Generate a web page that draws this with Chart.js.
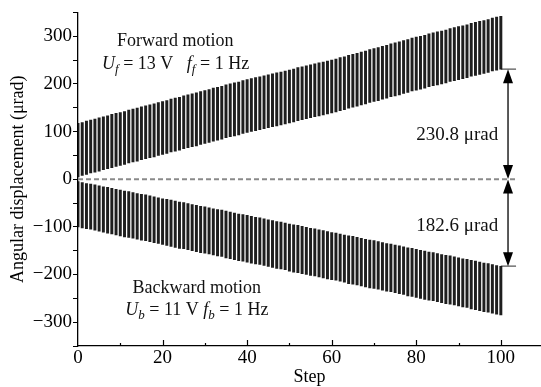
<!DOCTYPE html>
<html>
<head>
<meta charset="utf-8">
<script src="https://cdn.jsdelivr.net/npm/chart.js@4"></script>
<style>
  body { margin: 0; background: #fff; }
  canvas { display: block; }
</style>
</head>
<body>
<canvas id="grafico" width="541" height="387"></canvas>
<script>
// forward motion: low / high of each step (µrad), steps 0..100
const fwdLow = [5,8,10,13,15,17,20,22,24,27,29,31,34,36,38,41,43,45,47,50,52,
  54,57,59,61,64,66,68,70,73,75,77,80,82,84,87,89,91,93,96,98,
  100,102,104,106,108,110,112,114,116,118,120,123,125,127,129,131,133,135,137,139,
  141,144,146,149,151,153,156,158,161,163,165,168,170,173,175,177,180,182,185,187,
  189,191,194,196,198,200,202,205,207,209,211,213,216,218,220,222,224,227,229,230.8];
const fwdHigh = [117,119,122,124,126,129,131,133,136,138,140,142,145,147,149,152,154,156,158,161,163,
  165,168,170,172,175,177,179,181,184,186,188,191,193,195,198,200,202,204,207,209,
  211,213,215,217,219,221,223,225,227,229,231,234,236,238,240,242,244,246,248,250,
  252,255,257,260,262,264,267,269,272,274,276,279,281,284,286,288,291,293,296,298,
  300,302,305,307,309,311,313,316,318,320,322,324,327,329,331,333,335,338,340,342];
// backward motion
const bwdHigh = [-5,-7,-9,-10,-12,-14,-16,-17,-19,-21,-23,-25,-26,-28,-30,-32,-33,-35,-37,-39,-41,
  -42,-44,-46,-48,-49,-51,-53,-55,-57,-58,-60,-62,-64,-65,-67,-69,-71,-73,-74,-76,
  -78,-80,-81,-83,-85,-87,-89,-90,-92,-94,-96,-97,-99,-101,-103,-104,-106,-108,-110,-112,
  -113,-115,-117,-119,-120,-122,-124,-126,-128,-129,-131,-133,-135,-136,-138,-140,-142,-144,-145,-147,
  -149,-151,-153,-154,-156,-158,-160,-161,-163,-165,-167,-168,-170,-172,-174,-176,-177,-179,-181,-182.6];
const bwdLow = [-100,-102,-104,-105,-107,-109,-111,-113,-115,-117,-119,-121,-122,-124,-126,-128,-129,-131,-133,-135,-137,
  -139,-141,-143,-145,-146,-148,-150,-152,-154,-155,-157,-159,-161,-162,-165,-167,-169,-171,-172,-174,
  -176,-178,-179,-181,-183,-185,-187,-188,-190,-193,-195,-196,-198,-200,-202,-203,-205,-207,-209,-211,
  -212,-214,-216,-219,-220,-222,-224,-226,-228,-229,-231,-233,-235,-236,-238,-240,-242,-245,-246,-248,
  -250,-252,-254,-255,-257,-259,-261,-262,-264,-266,-268,-269,-272,-274,-276,-278,-279,-281,-283,-285];

const fwdFinal = 230.8;
const bwdFinal = -182.6;
const lastStep = 100;
const restEnd = 103.6;   // where the short rest lines / zero line stop
const arrowStep = 101.7;

const xTicks = [0, 20, 40, 60, 80, 100];
const yTicks = [-300, -200, -100, 0, 100, 200, 300];

const serif = '"Liberation Serif", "Times New Roman", serif';

// turn the arrays into floating bars {x, y:[lo, hi]}
const fwdBars = fwdLow.map((lo, i) => ({ x: i, y: [lo, fwdHigh[i]] }));
const bwdBars = bwdLow.map((lo, i) => ({ x: i, y: [lo, bwdHigh[i]] }));

function drawRuns(ctx, x, y, runs) {
    let cx = x;
    runs.forEach(r => {
        const size = r.sub ? 13 : 18;
        ctx.font = (r.it ? 'italic ' : '') + size + 'px ' + serif;
        ctx.fillText(r.t, cx, y + (r.sub ? 4 : 0));
        cx += ctx.measureText(r.t).width;
    });
}

// ticks inside the x axis, arrows and notes
const extras = {
    id: 'extras',
    afterDatasetsDraw(chart) {
        const c = chart.ctx;
        const xs = chart.scales.x, ys = chart.scales.y;
        const bottom = chart.chartArea.bottom;
        c.save();
        c.strokeStyle = '#000';
        c.lineWidth = 1.2;
        xs.ticks.forEach(t => {
            if (t.value % 10 !== 0 || t.value === 0) return;
            const px = Math.round(xs.getPixelForValue(t.value)) + 0.5;
            const len = t.value % 20 === 0 ? 6 : 3;
            c.beginPath();
            c.moveTo(px, bottom);
            c.lineTo(px, bottom - len);
            c.stroke();
        });

        // double arrows
        const ax = xs.getPixelForValue(arrowStep);
        const arrow = (fromV, toV) => {
            const y1 = ys.getPixelForValue(fromV), y2 = ys.getPixelForValue(toV);
            const dir = y2 > y1 ? 1 : -1;
            c.beginPath();
            c.moveTo(ax, y1 + dir * 10);
            c.lineTo(ax, y2 - dir * 10);
            c.lineWidth = 1.3;
            c.stroke();
            [[y1, -dir], [y2, dir]].forEach(([tip, d]) => {
                c.beginPath();
                c.moveTo(ax, tip);
                c.lineTo(ax - 5, tip - d * 14);
                c.lineTo(ax + 5, tip - d * 14);
                c.closePath();
                c.fill();
            });
        };
        c.fillStyle = '#000';
        arrow(fwdFinal, 0.6);
        arrow(-0.6, bwdFinal);

        // notes
        c.fillStyle = '#111';
        c.textBaseline = 'alphabetic';
        c.textAlign = 'left';
        const at = (sx, v) => [xs.getPixelForValue(sx), ys.getPixelForValue(v)];
        let p = at(9.2, 280);
        drawRuns(c, p[0], p[1], [{ t: 'Forward motion' }]);
        p = at(5.7, 232);
        drawRuns(c, p[0], p[1], [
            { t: 'U', it: true }, { t: 'f', it: true, sub: true }, { t: ' = 13 V   ' },
            { t: 'f', it: true }, { t: 'f', it: true, sub: true }, { t: ' = 1 Hz' }]);
        p = at(12.9, -239);
        drawRuns(c, p[0], p[1], [{ t: 'Backward motion' }]);
        p = at(11.2, -285);
        drawRuns(c, p[0], p[1], [
            { t: 'U', it: true }, { t: 'b', it: true, sub: true }, { t: ' = 11 V ' },
            { t: 'f', it: true }, { t: 'b', it: true, sub: true }, { t: ' = 1 Hz' }]);

        c.textAlign = 'right';
        c.font = '19px ' + serif;
        p = at(99.4, 83);
        c.fillText(fwdFinal.toFixed(1) + ' μrad', p[0], p[1]);
        p = at(99.4, -108);
        c.fillText(Math.abs(bwdFinal).toFixed(1) + ' μrad', p[0], p[1]);
        c.restore();
    }
};

const ctx = document.getElementById('grafico').getContext('2d');
new Chart(ctx, {
    data: {
        datasets: [{
            type: 'bar',
            data: fwdBars,
            backgroundColor: 'rgba(18,18,18,0.95)',
            barThickness: 2.3,
            grouped: false
        }, {
            type: 'bar',
            data: bwdBars,
            backgroundColor: 'rgba(18,18,18,0.95)',
            barThickness: 2.3,
            grouped: false
        }, {
            type: 'line', // zero line
            data: [{ x: 0, y: 0 }, { x: restEnd, y: 0 }],
            borderColor: '#8a8a8a',
            borderWidth: 2,
            borderDash: [5, 3],
            pointRadius: 0
        }, {
            type: 'line',
            data: [{ x: lastStep, y: fwdFinal }, { x: restEnd, y: fwdFinal }],
            borderColor: '#555',
            borderWidth: 1.2,
            pointRadius: 0
        }, {
            type: 'line',
            data: [{ x: lastStep, y: bwdFinal }, { x: restEnd, y: bwdFinal }],
            borderColor: '#555',
            borderWidth: 1.2,
            pointRadius: 0
        }]
    },
    options: {
        responsive: false,
        animation: false,
        layout: { padding: { top: 10, right: 0, left: 0, bottom: 0 } },
        plugins: { legend: { display: false }, tooltip: { enabled: false } },
        scales: {
            x: {
                type: 'linear',
                min: 0,
                max: 109.5,
                offset: false,
                afterFit: s => { s.height = 41; },
                grid: { display: false, drawTicks: false },
                border: { color: '#000', width: 1.3 },
                ticks: {
                    stepSize: 10,
                    includeBounds: false,
                    autoSkip: false,
                    maxRotation: 0,
                    padding: 1,
                    color: '#000',
                    font: { family: serif, size: 19 },
                    callback: v => xTicks.includes(v) ? v : ''
                },
                title: {
                    display: true,
                    text: 'Step',
                    color: '#000',
                    font: { family: serif, size: 18 },
                    padding: { top: 0, bottom: -1 }
                }
            },
            y: {
                min: -350,
                max: 350,
                afterFit: s => { s.width = 78; },
                grid: { drawOnChartArea: false, drawTicks: true, tickLength: 5, color: '#000' },
                border: { color: '#000', width: 1.3 },
                ticks: {
                    stepSize: 50,
                    autoSkip: false,
                    padding: 1,
                    color: '#000',
                    font: { family: serif, size: 19 },
                    callback: v => yTicks.includes(v) ? String(v).replace('-', '\u2212') : ''
                },
                title: {
                    display: true,
                    text: 'Angular displacement (μrad)',
                    color: '#000',
                    font: { family: serif, size: 18 },
                    padding: { top: 7, bottom: 0 }
                }
            }
        }
    },
    plugins: [extras]
});
</script>
</body>
</html>
